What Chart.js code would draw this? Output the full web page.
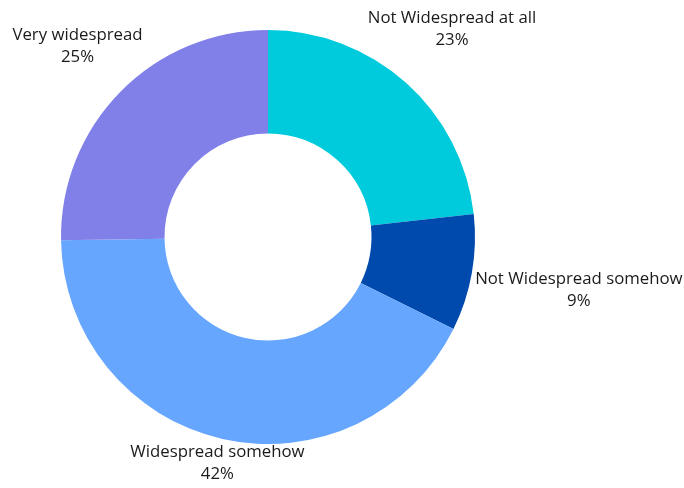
<!DOCTYPE html>
<html>
<head>
<meta charset="utf-8">
<script src="https://cdn.jsdelivr.net/npm/chart.js@4"></script>
<style>
  html, body { margin: 0; padding: 0; background: #ffffff; }
  #wrap { width: 684px; height: 488px; }
</style>
</head>
<body>
<div id="wrap"><canvas id="chart" width="684" height="488"></canvas></div>
<script>
// Survey answers, clockwise from 12 o'clock
const categories = ['Not Widespread at all', 'Not Widespread somehow', 'Widespread somehow', 'Very widespread'];
const shares = [23, 9, 42, 25];
const sliceColors = ['#00CBDD', '#004AAD', '#66A6FF', '#8180E8'];

// Label placement: offset (px) from the outer midpoint of each slice
const labelOffsets = [[46, -54], [107, 17], [-5, 24], [-43, -46]];

const outsideLabels = {
  id: 'outsideLabels',
  afterDatasetsDraw(chart) {
    const ctx = chart.ctx;
    const meta = chart.getDatasetMeta(0);
    ctx.save();
    ctx.fillStyle = '#1a1a1a';
    ctx.font = '16.8px "Open Sans", sans-serif';
    ctx.textAlign = 'center';
    ctx.textBaseline = 'middle';
    meta.data.forEach((arc, i) => {
      const p = arc.getProps(['x', 'y', 'startAngle', 'endAngle', 'outerRadius'], true);
      const mid = (p.startAngle + p.endAngle) / 2;
      const ax = p.x + Math.cos(mid) * p.outerRadius + labelOffsets[i][0];
      const ay = p.y + Math.sin(mid) * p.outerRadius + labelOffsets[i][1];
      ctx.fillText(categories[i], ax, ay - 11);
      ctx.fillText(shares[i] + '%', ax, ay + 11);
    });
    ctx.restore();
  }
};

new Chart(document.getElementById('chart'), {
  type: 'doughnut',
  data: {
    labels: categories,
    datasets: [{
      data: shares,
      backgroundColor: sliceColors,
      borderWidth: 0,
      hoverOffset: 0
    }]
  },
  options: {
    responsive: false,
    animation: false,
    cutout: '50%',
    layout: { padding: { left: 61, right: 209, top: 30, bottom: 44 } },
    plugins: {
      legend: { display: false },
      tooltip: { enabled: false }
    }
  },
  plugins: [outsideLabels]
});
</script>
</body>
</html>
